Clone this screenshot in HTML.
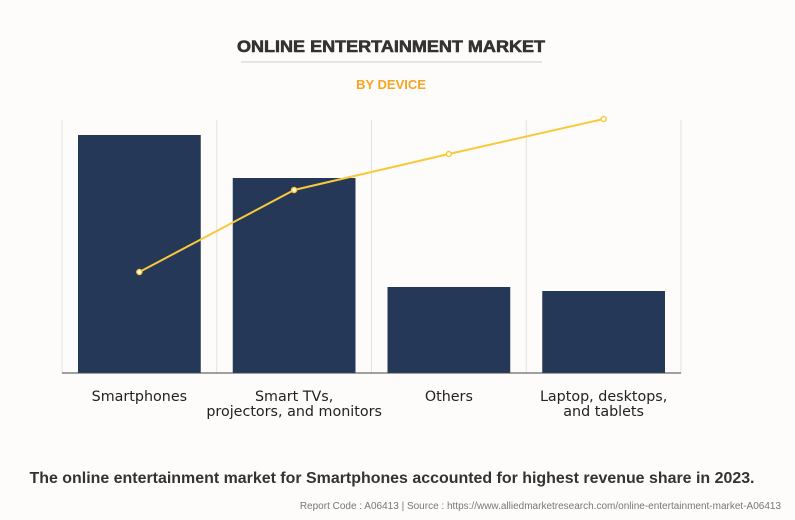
<!DOCTYPE html>
<html><head><meta charset="utf-8"><style>
html,body{margin:0;padding:0;background:#fdfcfa;}
body{width:795px;height:515px;position:relative;overflow:hidden;font-family:"Liberation Sans",sans-serif;}
</style></head><body>
<svg id="c" width="795" height="515">
<text x="391" y="52" text-anchor="middle" font-size="17" font-weight="bold" fill="#333" stroke="#333" stroke-width="0.6" textLength="308" lengthAdjust="spacingAndGlyphs">ONLINE ENTERTAINMENT MARKET</text>
<line x1="241" y1="62" x2="542" y2="62" stroke="#ccc"/>
<text x="391" y="89" text-anchor="middle" font-size="13" font-weight="bold" fill="#f5a623">BY DEVICE</text>
<g id="plot"></g>
<text x="392" y="483" text-anchor="middle" font-size="15.5" font-weight="bold" fill="#333" textLength="725" lengthAdjust="spacingAndGlyphs">The online entertainment market for Smartphones accounted for highest revenue share in 2023.</text>
<text x="781" y="509" text-anchor="end" font-size="10" fill="#777">Report Code : A06413  |  Source : https://www.alliedmarketresearch.com/online-entertainment-market-A06413</text>
</svg>
<script>
const categories=[["Smartphones"],["Smart TVs,","projectors, and monitors"],["Others"],["Laptop, desktops,","and tablets"]];
const barValues=[238,195,86,82];
const lineValues=[101,183,219,254];
const NS="http://www.w3.org/2000/svg";
const g=document.getElementById('plot');
const x0=62,x1=681,base=373,band=(x1-x0)/categories.length;
const yB=v=>base-v, yL=v=>base-v;
function mk(t,a){const e=document.createElementNS(NS,t);for(const k in a)e.setAttribute(k,a[k]);g.appendChild(e);return e;}
for(let i=0;i<=categories.length;i++){
 const l=mk('line',{x1:x0+i*band,x2:x0+i*band,y1:120,y2:base,stroke:'#e2e2e2'});
 
 
}
barValues.forEach((v,i)=>{
 const r=mk('rect',{x:x0+i*band+16,y:yB(v),width:band-32,height:v,fill:'#253858'});
 
 
});
const ax=mk('line',{x1:x0,x2:x1,y1:base,y2:base,stroke:'#444'});


const pts=lineValues.map((v,i)=>[x0+(i+0.5)*band,yL(v)]);
const pl=mk('polyline',{points:pts.map(p=>p.join(',')).join(' '),fill:'none',stroke:'#f8c93a','stroke-width':2});


pts.forEach((p,i)=>{
 const c=mk('circle',{cx:p[0],cy:p[1],r:2.5,fill:'#fff',stroke:'#f8c93a','stroke-width':1.5});
 
 
});
categories.forEach((lines,i)=>{
 lines.forEach((s,j)=>{
  const t=mk('text',{x:x0+(i+0.5)*band,y:401+j*15,'text-anchor':'middle','font-size':14.3,'font-family':'"DejaVu Sans",sans-serif',fill:'#222'});
  t.textContent=s;
  
  
 });
});
</script>
</body></html>
